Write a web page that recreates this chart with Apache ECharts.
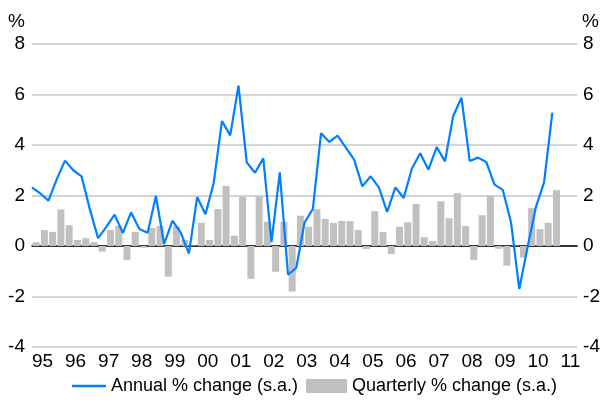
<!DOCTYPE html>
<html><head><meta charset="utf-8">
<script src="https://cdn.jsdelivr.net/npm/echarts@6/dist/echarts.min.js"></script>
<style>html,body{margin:0;padding:0;background:#fff}#c{width:603px;height:404px}</style>
</head><body><div id="c"></div>
<script>
// Tick labels (two-digit years), one per year start
const yearLabels = ['95','96','97','98','99','00','01','02','03','04','05','06','07','08','09','10','11'];
const quarterNames = ['Q1','Q2','Q3','Q4'];
// Annual % change (s.a.), 1995Q1 - 2010Q4
const annualChange = [
  2.32, 2.08, 1.80, 2.65, 3.38, 3.00, 2.76, 1.46,
  0.31, 0.76, 1.24, 0.52, 1.33, 0.67, 0.52, 1.98,
  0.08, 1.00, 0.54, -0.30, 1.94, 1.26, 2.50, 4.95,
  4.38, 6.35, 3.31, 2.90, 3.47, 0.15, 2.92, -1.14,
  -0.86, 0.93, 1.46, 4.47, 4.12, 4.37, 3.90, 3.42,
  2.36, 2.76, 2.32, 1.35, 2.32, 1.90, 3.07, 3.67,
  3.02, 3.92, 3.35, 5.15, 5.87, 3.37, 3.50, 3.33,
  2.43, 2.22, 0.93, -1.70, -0.05, 1.53, 2.52, 5.28
];
// Quarterly % change (s.a.), 1995Q1 - 2010Q4
const quarterlyChange = [
  0.15, 0.63, 0.56, 1.45, 0.82, 0.24, 0.31, 0.15,
  -0.22, 0.63, 0.80, -0.55, 0.56, -0.07, 0.71, 0.80,
  -1.21, 0.78, 0.24, 0.02, 0.92, 0.24, 1.46, 2.38,
  0.41, 1.95, -1.30, 1.95, 0.96, -1.02, 0.96, -1.80,
  1.20, 0.76, 1.46, 1.07, 0.91, 0.99, 0.99, 0.63,
  -0.12, 1.38, 0.55, -0.32, 0.76, 0.94, 1.66, 0.35,
  0.20, 1.77, 1.10, 2.09, 0.79, -0.55, 1.22, 1.99,
  -0.11, -0.78, 0.02, -0.46, 1.50, 0.67, 0.92, 2.21
];
const seriesNames = ['Annual % change (s.a.)', 'Quarterly % change (s.a.)'];

// category lists built from the year labels
const allQuarters = [];
yearLabels.forEach(y => quarterNames.forEach(q => allQuarters.push(y + q)));
const lineCats = allQuarters.slice(0, 67);
const barCats = allQuarters.slice(0, 66);

const FONT = "'Liberation Sans',Arial,sans-serif";
const txt = {fontFamily: FONT, fontSize: 19, color: '#000'};
const legTxt = {fontFamily: FONT, fontSize: 18, color: '#000'};
const BLUE = '#0080ff';

const chart = echarts.init(document.getElementById('c'), null, {renderer: 'canvas'});
chart.setOption({
  animation: false,
  backgroundColor: '#fff',
  grid: {left: 32, right: 23, top: 44, bottom: 57, containLabel: false},
  xAxis: [
    {
      type: 'category', data: lineCats, boundaryGap: false, position: 'bottom',
      axisLine: {show: false}, axisTick: {show: false}, splitLine: {show: false},
      axisLabel: Object.assign({
        interval: (i) => i % 4 === 0,
        formatter: (v) => v.slice(0, 2),
        align: 'left', margin: 5
      }, txt)
    },
    {
      type: 'category', data: barCats, boundaryGap: true, position: 'bottom',
      axisLine: {show: true, onZero: true, lineStyle: {color: '#000', width: 1.5}},
      axisTick: {show: false}, axisLabel: {show: false}, splitLine: {show: false}
    }
  ],
  yAxis: [
    {
      type: 'value', min: -4, max: 8, interval: 2, position: 'left',
      name: '%', nameLocation: 'end', nameGap: 13,
      nameTextStyle: Object.assign({align: 'right', verticalAlign: 'bottom', padding: [0, 7, 0, 0]}, txt),
      axisLine: {show: false}, axisTick: {show: false},
      splitLine: {show: true, lineStyle: {color: '#c6c6c6', width: 1.5}},
      axisLabel: Object.assign({margin: 7, padding: [7, 0, 0, 0]}, txt)
    },
    {
      type: 'value', min: -4, max: 8, interval: 2, position: 'right',
      name: '%', nameLocation: 'end', nameGap: 13,
      nameTextStyle: Object.assign({align: 'left', verticalAlign: 'bottom', padding: [0, 0, 0, 5]}, txt),
      axisLine: {show: false}, axisTick: {show: false}, splitLine: {show: false},
      axisLabel: Object.assign({margin: 6, padding: [7, 0, 0, 0]}, txt)
    }
  ],
  legend: [
    {
      data: [{name: seriesNames[0], icon: 'rect'}], left: 67, top: 372,
      itemWidth: 34, itemHeight: 2.5, textStyle: legTxt, selectedMode: false,
      itemStyle: {color: BLUE}
    },
    {
      data: [{name: seriesNames[1], icon: 'rect'}], left: 301, top: 372,
      itemWidth: 41, itemHeight: 14, textStyle: legTxt, selectedMode: false
    }
  ],
  series: [
    {
      name: seriesNames[1], type: 'bar', xAxisIndex: 1, yAxisIndex: 0,
      data: quarterlyChange, barWidth: 7, itemStyle: {color: '#c0c0c0'}, z: 2
    },
    {
      name: seriesNames[0], type: 'line', xAxisIndex: 0, yAxisIndex: 0,
      data: annualChange, symbol: 'none', smooth: false,
      lineStyle: {color: BLUE, width: 2.2}, itemStyle: {color: BLUE}, z: 3
    }
  ]
});
</script>
</body></html>
